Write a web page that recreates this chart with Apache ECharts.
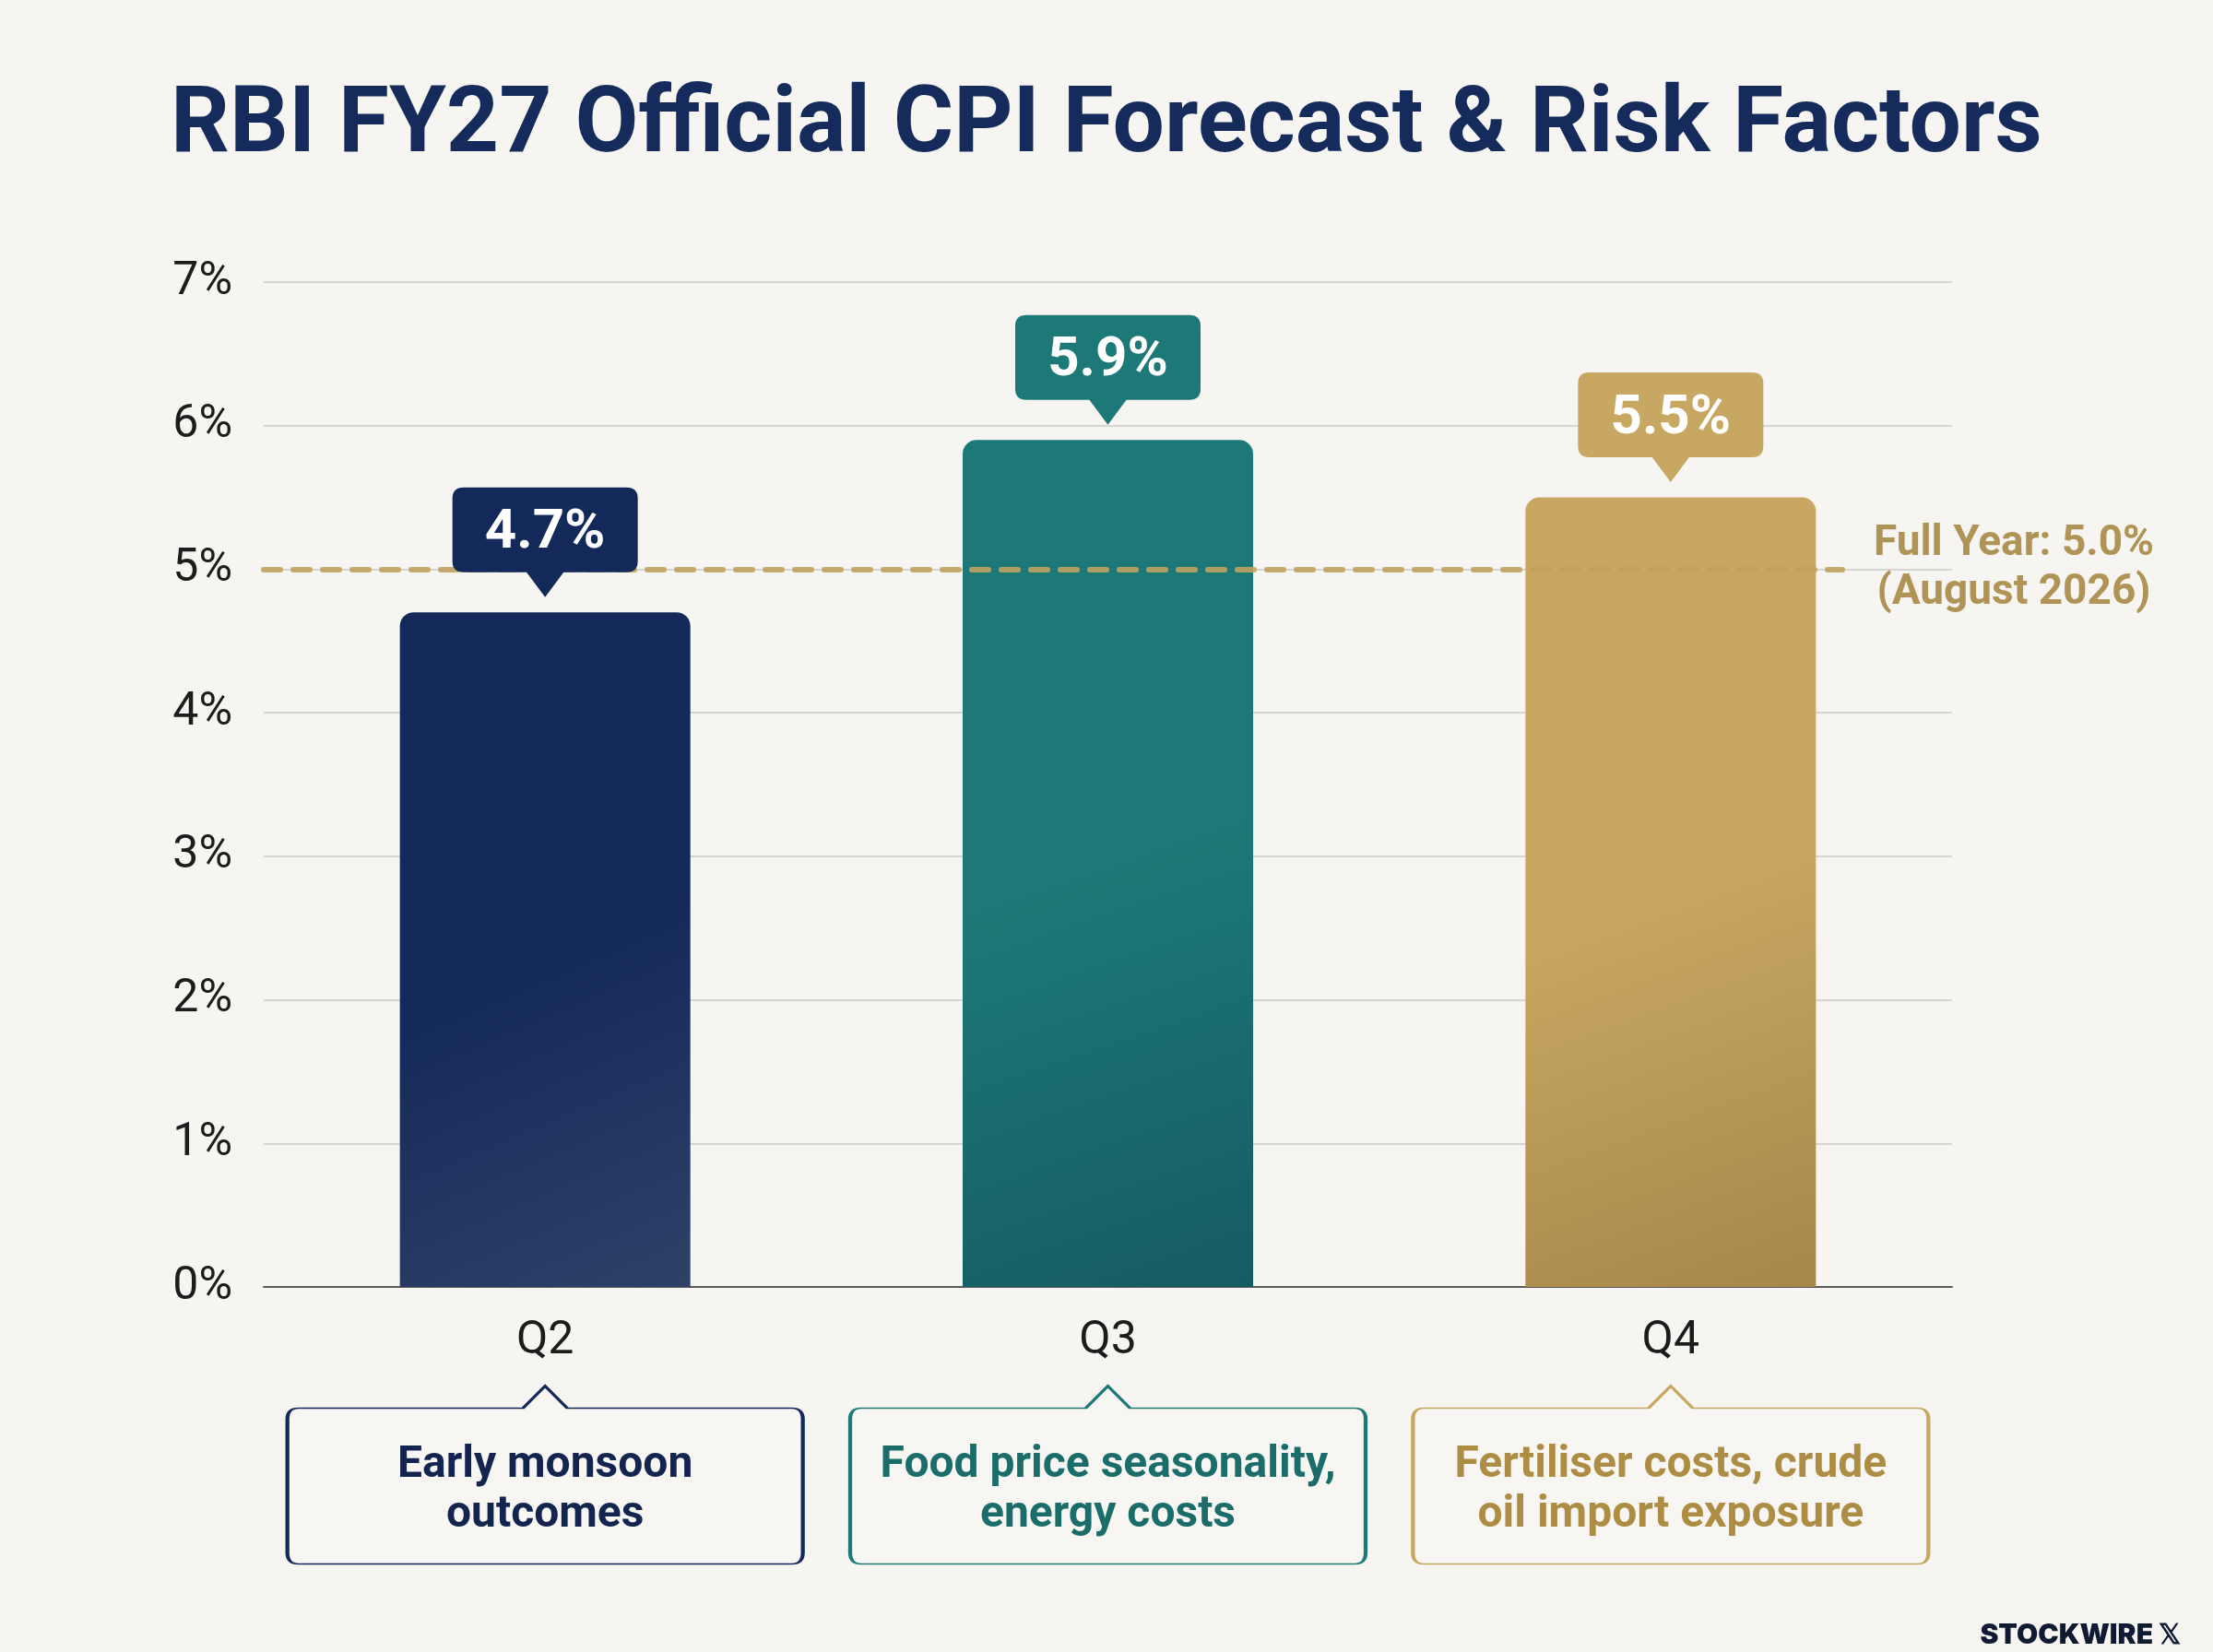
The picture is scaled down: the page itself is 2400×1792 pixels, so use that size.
<!DOCTYPE html>
<html>
<head>
<meta charset="utf-8">
<title>RBI FY27 Official CPI Forecast & Risk Factors</title>
<script src="https://cdn.jsdelivr.net/npm/echarts@6/dist/echarts.min.js"></script>
<style>
    html, body { margin: 0; padding: 0; background: #f6f5f1; }
    #main { width: 2400px; height: 1792px; }
</style>
</head>
<body>
<div id="main"></div>
<script>
// data
var quarters = ['Q2', 'Q3', 'Q4'];
var cpiForecast = [4.7, 5.9, 5.5];
var fullYear = 5.0;
var fullYearNote = '(August 2026)';
var riskFactors = [
    'Early monsoon\noutcomes',
    'Food price seasonality,\nenergy costs',
    'Fertiliser costs, crude\noil import exposure'
];
var yTicks = [0, 1, 2, 3, 4, 5, 6, 7];

// colours per quarter
var barBase = ['#13295a', '#1d7977', '#c7a761'];
var barShade = ['#2e4168', '#155b63', '#a5874a'];
var textColor = ['#13244f', '#1a6d69', '#ad8d44'];
var gold = '#c2a260';

var calloutPath = 'path://M12,0H188Q200,0,200,12V80Q200,92,188,92H120L100,119L80,92H12Q0,92,0,80V12Q0,0,12,0Z';
var riskBoxPath = 'path://M12,24H255.5L279.5,0L303.5,24H547Q559,24,559,36V181Q559,193,547,193H12Q0,193,0,181V36Q0,24,12,24Z';

var myChart = echarts.init(document.getElementById('main'));

var barData = [];
var calloutData = [];
var riskData = [];
for (var i = 0; i < quarters.length; i++) {
    barData.push({
        value: cpiForecast[i],
        itemStyle: {
            color: {
                type: 'linear', x: 0, y: 0, x2: 1, y2: 1,
                colorStops: [
                    { offset: 0, color: barBase[i] },
                    { offset: 0.5, color: barBase[i] },
                    { offset: 1, color: barShade[i] }
                ]
            }
        }
    });
    calloutData.push({
        coord: [quarters[i], cpiForecast[i]],
        value: cpiForecast[i],
        itemStyle: { color: barBase[i] }
    });
    riskData.push({
        value: [quarters[i], 0],
        name: riskFactors[i],
        itemStyle: { color: '#f7f6f3', borderColor: barBase[i], borderWidth: 2.5, opacity: 1 },
        label: { color: textColor[i] }
    });
}

var option = {
    animation: false,
    backgroundColor: '#f6f5f1',
    title: [{
        text: 'RBI FY27 Official CPI Forecast & Risk Factors',
        left: 'center',
        top: 84,
        textStyle: {
            fontFamily: 'Roboto',
            fontSize: 100,
            fontWeight: 'bold',
            color: '#152b5b'
        }
    }, {
        text: 'STOCKWIRE \uD835\uDD4F',
        right: 30,
        top: 1754,
        textStyle: {
            fontFamily: 'Inter',
            fontSize: 30,
            fontWeight: 900,
            color: '#101a33'
        }
    }],
    grid: {
        left: 286,
        right: 283,
        top: 306,
        bottom: 396
    },
    xAxis: {
        type: 'category',
        data: quarters,
        axisTick: { show: false },
        axisLine: { lineStyle: { color: '#5a5a5a', width: 2 } },
        axisLabel: {
            margin: 34,
            fontFamily: 'Roboto',
            fontSize: 50,
            color: '#1c1c1c'
        }
    },
    yAxis: {
        type: 'value',
        min: yTicks[0],
        max: yTicks[yTicks.length - 1],
        interval: 1,
        axisLine: { show: false },
        axisTick: { show: false },
        splitLine: { lineStyle: { color: '#d6d5d1', width: 2 } },
        axisLabel: {
            margin: 34,
            fontFamily: 'Roboto',
            fontSize: 50,
            color: '#1c1c1c',
            formatter: '{value}%'
        }
    },
    series: [{
        type: 'bar',
        data: barData,
        barWidth: 315,
        itemStyle: { borderRadius: [15, 15, 0, 0] },
        markLine: {
            silent: true,
            z: 3,
            symbol: 'none',
            lineStyle: {
                color: gold,
                width: 6,
                type: [18, 14],
                cap: 'round',
                opacity: 0.9
            },
            label: {
                show: true,
                position: 'end',
                distance: 186,
                align: 'center',
                padding: [12, 0, 0, 0],
                formatter: 'Full Year: ' + fullYear.toFixed(1) + '%\n' + fullYearNote,
                fontFamily: 'Roboto',
                fontSize: 46,
                fontWeight: 'bold',
                lineHeight: 53,
                color: '#a98a45'
            },
            data: [[
                { coord: [quarters[0], fullYear], x: 286 },
                { coord: [quarters[2], fullYear], x: 1998 }
            ]]
        },
        markPoint: {
            silent: true,
            z: 6,
            symbol: calloutPath,
            symbolSize: [201, 119],
            symbolOffset: [0, -76],
            label: {
                show: true,
                position: 'inside',
                offset: [0, -9],
                formatter: '{c}%',
                fontFamily: 'Roboto',
                fontSize: 60,
                fontWeight: 'bold',
                color: '#ffffff'
            },
            data: calloutData
        }
    }, {
        type: 'scatter',
        silent: true,
        clip: false,
        symbol: riskBoxPath,
        symbolSize: [559, 193],
        symbolOffset: [0, 204],
        label: {
            show: true,
            position: 'inside',
            offset: [0, 17],
            formatter: '{b}',
            fontFamily: 'Roboto',
            fontSize: 48,
            fontWeight: 'bold',
            lineHeight: 54,
            align: 'center'
        },
        data: riskData
    }]
};
myChart.setOption(option);
window.addEventListener("resize", function () {
    myChart.resize();
});
</script>
</body>
</html>
